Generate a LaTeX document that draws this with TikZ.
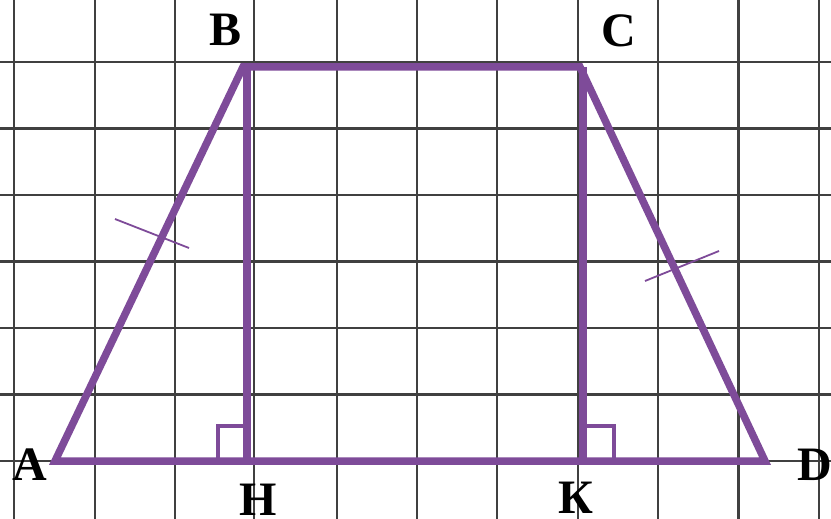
\documentclass[tikz,border=0pt]{standalone}
\usepackage{fontspec}
\setmainfont{Liberation Serif}
\definecolor{trap}{HTML}{7E4B99}
\definecolor{gridc}{HTML}{404040}
\begin{document}
\begin{tikzpicture}[x=1pt,y=-1pt,
  gridline/.style={draw=gridc,line width=2.6pt},
  side/.style={draw=trap,line width=7.5pt,line join=miter},
  thin/.style={draw=trap,line width=3.5pt},
  tick/.style={draw=trap,line width=1.8pt},
  lbl/.style={font=\fontsize{48}{48}\selectfont\bfseries,inner sep=0pt}]
\useasboundingbox (0,0) rectangle (831,519);
\fill[white] (0,0) rectangle (831,519);
% grid
\foreach \gx in {14,95,175,254,337,417,497,578,658,738.5,819}
  \draw[gridline] (\gx,0) -- (\gx,519);
\foreach \gy in {62,128.5,195,261.5,328,394.5,461}
  \draw[gridline] (0,\gy) -- (831,\gy);
% vertices
\coordinate (A) at (55,461);
\coordinate (B) at (243,67);
\coordinate (C) at (580,67);
\coordinate (D) at (765,461);
\coordinate (B2) at (247,67);
\coordinate (C2) at (583,67);
\coordinate (H) at (247,461);
\coordinate (K) at (583,461);
% right angle marks
\coordinate (h1) at (218,461);
\coordinate (h2) at (218,426);
\coordinate (h3) at (247,426);
\coordinate (k1) at (614,461);
\coordinate (k2) at (614,426);
\coordinate (k3) at (583,426);
\draw[thin] (h1) -- (h2) -- (h3);
\draw[thin] (k1) -- (k2) -- (k3);
% trapezoid
\draw[side] (A) -- (B) -- (C) -- (D) -- cycle;
\draw[side] (B2) -- (H);
\draw[side] (C2) -- (K);
% equal-side ticks
\coordinate (t1) at (115,219);
\coordinate (t2) at (189,248);
\coordinate (t3) at (645,281);
\coordinate (t4) at (719,251);
\draw[tick] (t1) -- (t2);
\draw[tick] (t3) -- (t4);
% labels
\node[lbl] (lB) at (226,30) {B};
\node[lbl] (lC) at (619,31) {C};
\node[lbl] (lA) at (30,465) {A};
\node[lbl] (lD) at (815,465) {D};
\node[lbl] (lH) at (258,500) {Н};
\node[lbl] (lK) at (576,498) {К};
\end{tikzpicture}
\end{document}
